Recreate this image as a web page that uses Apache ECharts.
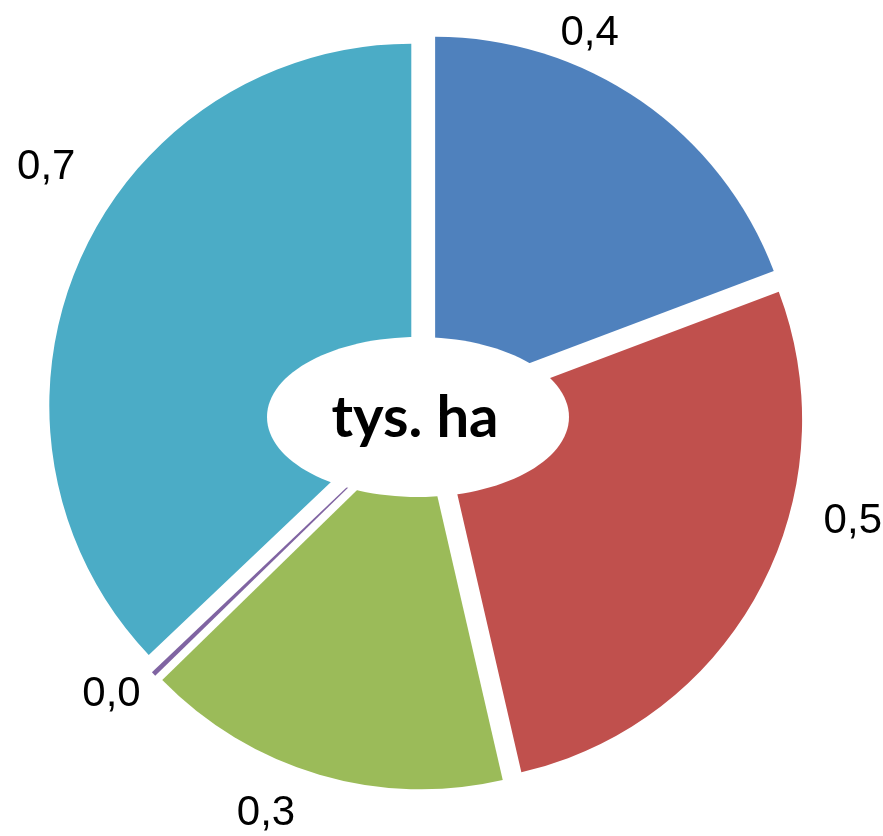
<!DOCTYPE html>
<html lang="pl">
<head>
    <meta charset="UTF-8">
    <title>tys. ha</title>
    <script src="https://cdn.jsdelivr.net/npm/echarts@6/dist/echarts.min.js"></script>
</head>
<body style="margin:0;background:#fff">
<div id="main" style="width: 883px;height: 836px"></div>
<script>
    // wartosci (tys. ha)
    var names = ['A', 'B', 'C', 'D', 'E'];
    var values = [0.366, 0.516, 0.31, 0.004, 0.705];
    var labels = ['0,4', '0,5', '0,3', '0,0', '0,7'];
    var colors = ['#4F81BD', '#C0504D', '#9BBB59', '#8064A2', '#4BACC6'];

    var myChart = echarts.init(document.getElementById('main'));

    var pieData = [];
    for (var i = 0; i < values.length; i++) {
        pieData.push({
            name: names[i],
            value: values[i],
            selected: true,
            itemStyle: {color: colors[i]},
            label: {formatter: labels[i]}
        });
    }

    // przesuniecie etykiet jak w Excelu
    var labelShift = [[-98, -50], [40, -79], [-13, 18], [8, 5], [22, -87]];

    option = {
        backgroundColor: '#fff',
        animation: false,
        series: [
            {
                type: 'pie',
                center: [426, 412],
                radius: 362,
                startAngle: 90,
                clockwise: true,
                minAngle: 0,
                avoidLabelOverlap: false,
                selectedMode: 'multiple',
                selectedOffset: 16,
                label: {
                    show: true,
                    position: 'outside',
                    fontFamily: 'Liberation Sans',
                    fontSize: 42,
                    color: '#000'
                },
                labelLine: {show: false, length: 22, length2: 0},
                labelLayout: function (params) {
                    var s = labelShift[params.dataIndex];
                    return {dx: s[0], dy: s[1]};
                },
                emphasis: {disabled: true},
                data: pieData
            }
        ],
        graphic: [
            {
                type: 'ellipse',
                shape: {cx: 418, cy: 417, rx: 151, ry: 80},
                style: {fill: '#fff'},
                z: 100
            },
            {
                type: 'text',
                x: 415,
                y: 418,
                z: 101,
                style: {
                    text: 'tys. ha',
                    fontFamily: 'Lato',
                    fontWeight: 'bold',
                    fontSize: 58,
                    fill: '#000',
                    textAlign: 'center',
                    textVerticalAlign: 'middle'
                }
            }
        ]
    };

    myChart.setOption(option);
</script>
</body>
</html>
